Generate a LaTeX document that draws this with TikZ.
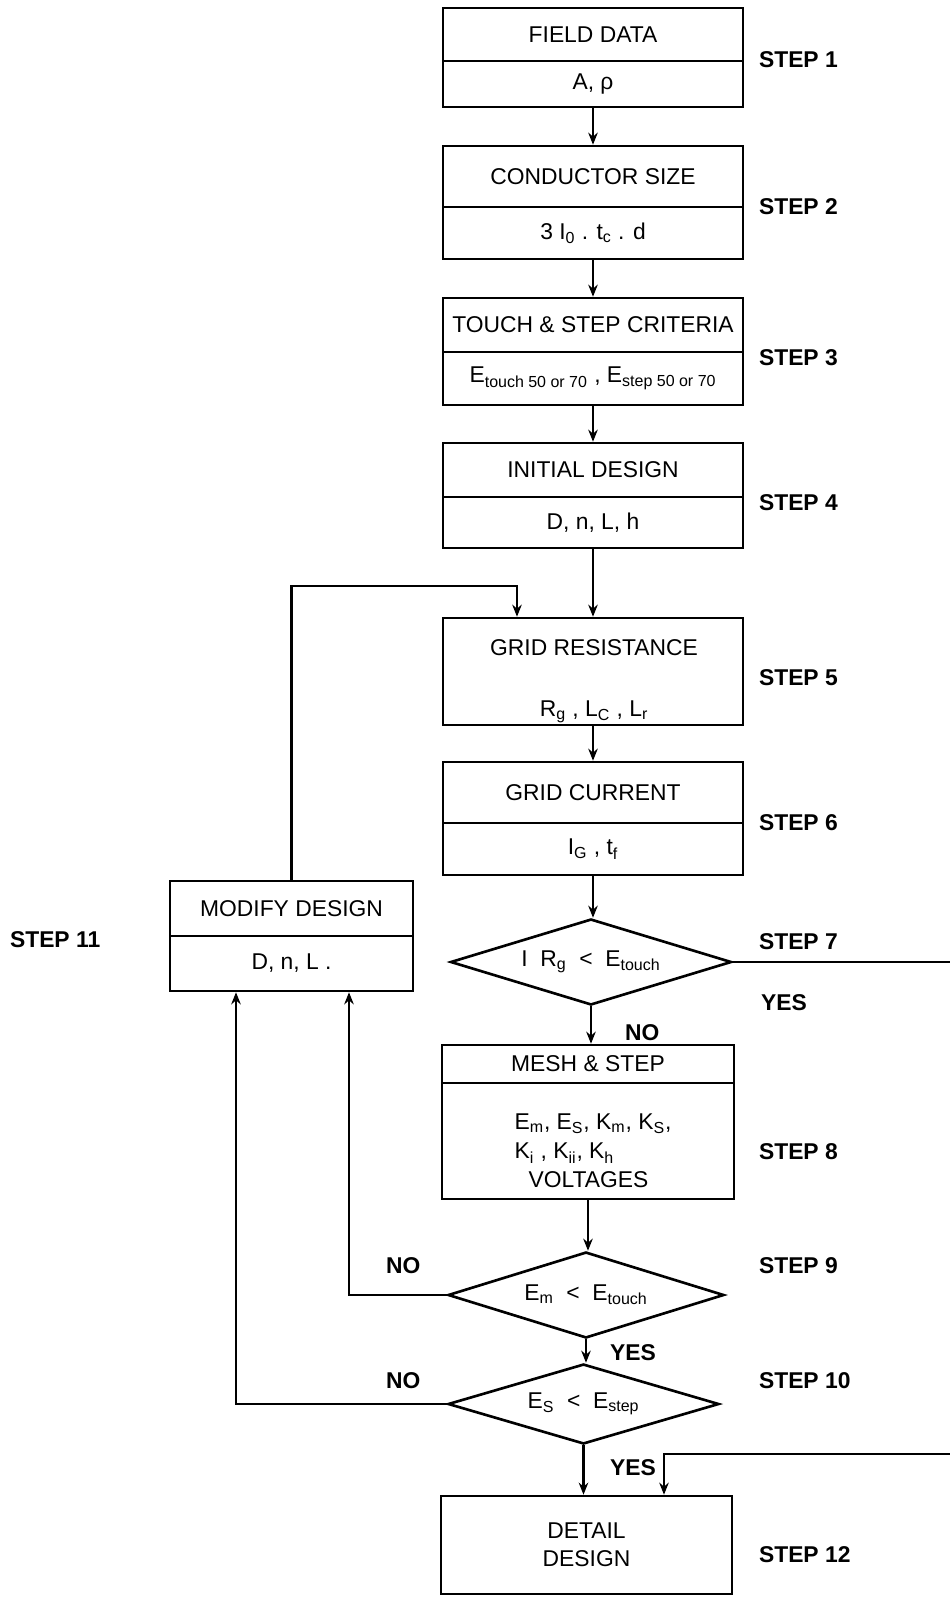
\documentclass[tikz,border=0pt]{standalone}
\usepackage{fontspec}
\setmainfont{Liberation Sans}
\usetikzlibrary{arrows.meta,calc,shapes.geometric}
\tikzset{
  >={Stealth[length=2.4mm,width=1.9mm]},
  box/.style={draw,line width=1.5pt,minimum width=60mm,inner sep=0pt,font=\fontsize{13}{16}\selectfont},
  cond/.style={diamond,draw,line width=1.5pt,inner sep=0pt,aspect=3,font=\fontsize{13}{16}\selectfont},
  txt/.style={inner sep=0pt,font=\fontsize{13}{16}\selectfont},
  stp/.style={anchor=west,inner sep=0pt,font=\bfseries\fontsize{13}{16}\selectfont},
  every picture/.style={line width=1.2pt},
}
\begin{document}
\begin{tikzpicture}[x=0.2mm,y=-0.2mm]
\useasboundingbox (0,0) rectangle (950,1597);
\node[box,minimum height=10.6mm] (fd) at (593,34.5){FIELD DATA}; \node[box,minimum height=9.2mm] (fdv) at (593,84){A, ρ};
\node[box,minimum height=12.2mm] (cs) at (593,176.5){CONDUCTOR SIZE}; \node[box,minimum height=10.4mm] (csv) at (593,233){3 I\textsubscript{0} . t\textsubscript{c} . d};
\node[box,minimum height=10.8mm] (tc) at (593,325){TOUCH \& STEP CRITERIA};
\node[box,minimum height=10.6mm] (tcv) at (593,378.5){E\textsubscript{touch 50 or 70} , E\textsubscript{step 50 or 70}};
\node[box,minimum height=10.8mm] (id) at (593,470){INITIAL DESIGN}; \node[box,minimum height=10.2mm] (idv) at (593,522.5){D, n, L, h};
\node[box,minimum height=21.4mm] (gr) at (593,671.5){};
\node[txt] (grt) at (594,648){GRID RESISTANCE}; \node[txt] (grv) at (594,712){R\textsubscript{g} , L\textsubscript{C} , L\textsubscript{r}};
\node[box,minimum height=12.2mm] (gc) at (593,792.5){GRID CURRENT}; \node[box,minimum height=10.4mm] (gcv) at (593,849){I\textsubscript{G} , t\textsubscript{f}};
\node[cond,minimum width=56.2mm,minimum height=17.2mm] (d7) at (591,962){I \ R\textsubscript{g} ~<~ E\textsubscript{touch}};
\node[box,minimum width=58.4mm,minimum height=7.6mm] (mesh) at (588,1064){MESH \& STEP};
\node[box,minimum width=58.4mm,minimum height=23.2mm] (meshv) at (588,1141){};
\node[txt,align=left,font=\fontsize{13}{16.5}\selectfont] (mesht) at (593,1151){E\textsubscript{m}, E\textsubscript{S}, K\textsubscript{m}, K\textsubscript{S},\\K\textsubscript{i} , K\textsubscript{ii}, K\textsubscript{h}\\\hspace*{2.8mm}VOLTAGES};
\node[cond,minimum width=55.2mm,minimum height=17.2mm] (d9) at (586,1295){E\textsubscript{m} ~<~ E\textsubscript{touch}};
\node[cond,minimum width=54.2mm,minimum height=16mm] (d10) at (583.5,1404){E\textsubscript{S} ~<~ E\textsubscript{step}};
\node[box,minimum width=58.2mm,minimum height=19.6mm,align=center,font=\fontsize{13}{16}\selectfont] (det) at (586.5,1545){DETAIL\\DESIGN};
\node[box,minimum width=48.6mm,minimum height=11mm] (md) at (291.5,908.5){MODIFY DESIGN}; \node[box,minimum width=48.6mm,minimum height=11mm] (mdv) at (291.5,963.5){D, n, L .};
% step labels
\node[stp] (s1) at (758,60){STEP 1}; \node[stp] (s2) at (758,207){STEP 2}; \node[stp] (s3) at (758,358){STEP 3};
\node[stp] (s4) at (758,503){STEP 4}; \node[stp] (s5) at (758,678){STEP 5}; \node[stp] (s6) at (758,823){STEP 6};
\node[stp] (s7) at (758,942){STEP 7}; \node[stp] (s8) at (758,1152){STEP 8}; \node[stp] (s9) at (758,1266){STEP 9};
\node[stp] (s10) at (758,1381){STEP 10}; \node[stp] (s11) at (9,940){STEP 11}; \node[stp] (s12) at (758,1555){STEP 12};
\node[stp] (y7) at (760,1003){YES}; \node[stp] (n7) at (624,1033){NO}; \node[stp] (y9) at (609,1353){YES};
\node[stp] (y10) at (609,1468){YES}; \node[stp] (n9) at (385,1266){NO}; \node[stp] (n10) at (385,1381){NO};
% connectors
\coordinate (fbk) at (517,586); \coordinate (rt) at (953,1454); \coordinate (yin) at (664,1454);
\draw[->] (fdv.south) -- (cs.north); \draw[->] (csv.south) -- (tc.north); \draw[->] (tcv.south) -- (id.north);
\draw[->] (idv.south) -- (gr.north); \draw[->] (gr.south) -- (gc.north);
\draw[->] (gcv.south) -- (gcv.south |- d7.north); \draw[->] (d7.south) -- (d7.south |- mesh.north);
\draw[->] (meshv.south) -- (meshv.south |- d9.north); \draw[->] (d9.south) -- (d9.south |- d10.north);
\draw[->] (d10.south) -- (d10.south |- det.north);
\draw[->] (md.north) |- (fbk) -- (fbk |- gr.north);
\draw[->] (d9.west) -| ($(mdv.south)+(57.5,0)$); \draw[->] (d10.west) -| ($(mdv.south)+(-55.5,0)$);
\draw[->] (d7.east) -| (rt) -- (yin) -- (yin |- det.north);
\end{tikzpicture}
\end{document}
